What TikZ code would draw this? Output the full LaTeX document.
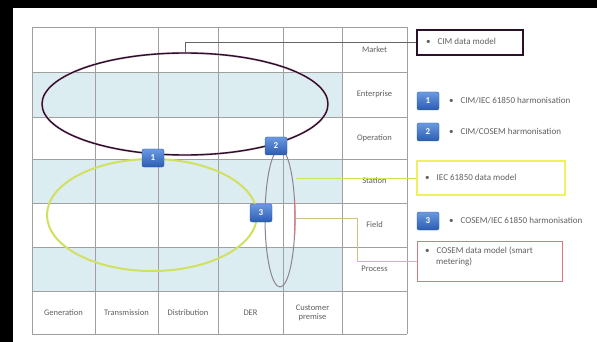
\documentclass[tikz,border=0pt]{standalone}
\usepackage{fontspec}
\setmainfont{Carlito}
\usetikzlibrary{shapes.geometric}
\definecolor{gridc}{HTML}{A0A0A0}
\definecolor{rowshade}{HTML}{DCEDF2}
\definecolor{cimc}{HTML}{2A1028}
\definecolor{cimhalo}{HTML}{E8C4DE}
\definecolor{iecc}{HTML}{D2E060}
\definecolor{cosc}{HTML}{8C8294}
\definecolor{redc}{HTML}{D87884}
\definecolor{yelboxc}{HTML}{F0F060}
\definecolor{tanc}{HTML}{D4BE80}
\definecolor{blueA}{HTML}{6A9AE0}
\definecolor{blueB}{HTML}{2C5CB0}
\definecolor{txt}{HTML}{606060}
\begin{document}
\begin{tikzpicture}[x=1pt,y=-1pt,
  cell/.style={font=\fontsize{8.5}{9}\selectfont, text=txt, align=center, inner sep=0pt},
  badge/.style={rounded corners=2pt, minimum width=22pt, minimum height=18pt,
    top color=blueA, bottom color=blueB, draw=blueB, text=white,
    font=\bfseries\fontsize{9}{9}\selectfont, inner sep=0pt},
  legtext/.style={font=\fontsize{9}{10}\selectfont, text=txt, anchor=west, inner sep=0pt},
  boxtext/.style={font=\fontsize{9}{10.5}\selectfont, text=txt, align=left, anchor=north west, inner sep=0pt},
  ell/.style={ellipse, inner sep=0pt},
  gridl/.style={draw=gridc, line width=0.8pt}
  ]
\useasboundingbox (0,0) rectangle (597,342);
\fill[white] (0,0) rectangle (597,342);
\fill[black] (0,0) rectangle (597,8);
\fill[black] (0,0) rectangle (13,342);

% shaded rows
\fill[rowshade] (32,72) rectangle (342,117);
\fill[rowshade] (32,159) rectangle (342,203);
\fill[rowshade] (32,247) rectangle (342,291);

% grid
\foreach \x in {32,95,158,218,283,342,407} \draw[gridl] (\x,27) -- (\x,334);
\foreach \y in {27,72,117,159,203,247,291,334} \draw[gridl] (32,\y) -- (407,\y);

% row labels
\node[cell] (market) at (374.5,49.5) {Market};
\node[cell] (enterprise) at (374.5,94.5) {Enterprise};
\node[cell] (operation) at (374.5,138) {Operation};
\node[cell] (station) at (374.5,181) {Station};
\node[cell] (field) at (374.5,225) {Field};
\node[cell] (process) at (374.5,269) {Process};
% column labels
\node[cell] (gen) at (63.5,312.5) {Generation};
\node[cell] (trans) at (126.5,312.5) {Transmission};
\node[cell] (dist) at (188,312.5) {Distribution};
\node[cell] (der) at (250.5,312.5) {DER};
\node[cell] (cust) at (312.5,312.5) {Customer\\premise};

% ellipses
\node[ell, draw=cimhalo, line width=2.2pt, minimum width=286pt, minimum height=102pt] (cimhaloe) at (185,104) {};
\node[ell, draw=cimc, line width=1.4pt, minimum width=286pt, minimum height=102pt] (cimell) at (185,104) {};
\node[ell, draw=iecc, line width=2pt, minimum width=210pt, minimum height=112pt] (iecell) at (152,215) {};
\node[ell, draw=cosc, line width=1pt, minimum width=30pt, minimum height=138pt] (cosell) at (280,218) {};
\draw[redc, line width=1.2pt] (280,218) ++(-15:15 and 69) arc[start angle=-15, end angle=15, x radius=15, y radius=69];

% legend boxes
\node[draw=cimc, line width=1.8pt, minimum width=106pt, minimum height=25pt, anchor=north west, inner sep=0pt] (cimbox) at (416,29) {};
\node[legtext] (cimtxt) at (426,41.5) {\textbullet\hspace{7pt}CIM data model};

\node[draw=yelboxc, line width=2.4pt, fill=white, minimum width=148pt, minimum height=34pt, anchor=north west, inner sep=0pt] (yelb) at (416,160) {};
\node[legtext] (iectxt) at (425,177) {\textbullet\hspace{7pt}IEC 61850 data model};

\node[draw=redc, line width=1.4pt, minimum width=145pt, minimum height=40pt, anchor=north west, inner sep=0pt] (redb) at (417,241) {};
\node[boxtext] (costxt) at (425,247) {\textbullet\hspace{7pt}COSEM data model (smart\\\hspace{11pt}metering)};

% legend badges
\node[badge] (l1) at (428,101) {1};
\node[legtext] (l1t) at (449,101) {\textbullet\hspace{7pt}CIM/IEC 61850 harmonisation};
\node[badge] (l2) at (428,132) {2};
\node[legtext] (l2t) at (449,132) {\textbullet\hspace{7pt}CIM/COSEM harmonisation};
\node[badge] (l3) at (428,221) {3};
\node[legtext] (l3t) at (449,221) {\textbullet\hspace{7pt}COSEM/IEC 61850 harmonisation};

% connectors
\draw[draw=black!60, line width=0.9pt] (cimell.north) |- (cimbox.west);
\draw[draw=iecc, line width=0.9pt] (cosell.east |- yelb.west) -- (yelb.west);
\draw[draw=tanc, line width=0.9pt] (cosell.east) -- ++(62,0) |- (redb.west);

% diagram badges
\node[badge] (b1) at (153,158) {1};
\node[badge] (b2) at (276,146) {2};
\node[badge] (b3) at (261,213) {3};
\end{tikzpicture}
\end{document}
